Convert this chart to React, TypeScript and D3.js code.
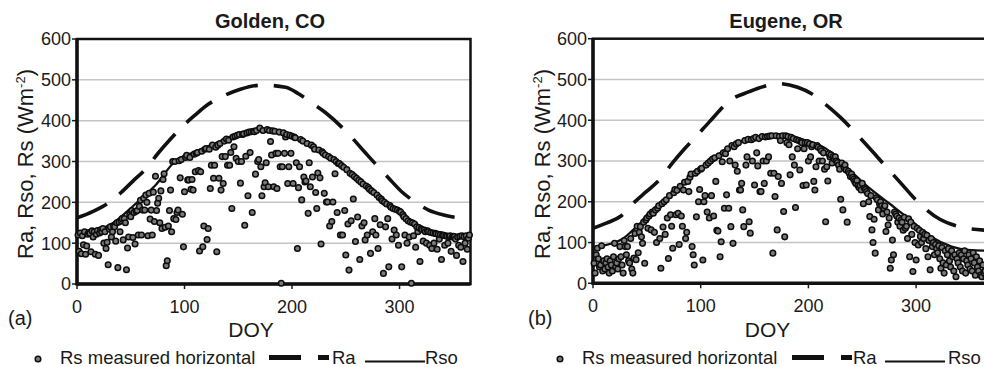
import React from 'react';
import * as d3 from 'd3';

const yTicks = [0, 100, 200, 300, 400, 500, 600];
const xTicks = [0, 100, 200, 300];

// [DOY, W m-2]
const goldenRa: [number, number][] = [[0,162],[15,178],[29,198],[41,224],[52,252],[64,282],[76,322],[87,355],[97,383],[110,414],[122,440],[135,459],[152,477],[172,487],[194,482],[206,466],[217,446],[231,420],[252,369],[268,322],[279,290],[290,259],[302,226],[315,200],[327,181],[341,169],[355,162],[366,160]];
const goldenRso: [number, number][] = [[0,122],[10,125],[23,136],[35,152],[48,181],[60,210],[73,242],[91,300],[110,324],[128,344],[147,365],[169,377],[180,377],[198,365],[220,332],[242,300],[260,259],[279,214],[297,181],[316,140],[335,124],[353,116],[366,118]];
const goldenRs: number[] = [
120,80,125,74,118,96,128,73,93,122,
126,124,79,130,115,128,73,122,131,70,
125,133,128,136,100,128,87,102,47,135,
140,115,128,142,140,105,150,40,152,128,
155,160,108,160,150,35,88,115,170,165,
180,114,175,98,178,180,120,190,205,120,
181,210,181,218,200,118,222,159,181,120,
225,153,264,180,198,210,150,228,136,256,
270,139,45,57,142,180,230,128,300,160,
300,158,175,181,302,260,305,171,91,226,
310,315,255,255,310,232,256,230,318,275,
320,322,278,81,275,325,91,142,330,332,
109,136,330,234,291,340,259,291,335,79,
340,259,344,230,312,246,350,312,355,291,
352,291,322,185,360,336,362,308,364,300,
366,247,300,366,368,144,313,370,216,372,
322,373,175,374,373,269,376,300,305,382,
287,216,376,238,248,297,378,238,376,349,
316,375,238,374,320,234,320,372,287,2,
287,370,320,360,366,246,287,364,320,362,
246,360,358,297,87,236,287,354,206,350,
262,250,252,344,173,297,238,340,262,336,
330,224,185,272,328,260,98,324,320,222,
316,201,201,312,142,308,153,201,305,270,
300,175,295,295,120,290,120,286,180,71,
280,147,34,271,155,268,208,263,104,259,
164,254,60,250,142,245,150,108,240,120,
236,232,75,228,128,224,160,120,218,87,
212,145,208,204,26,200,140,196,160,42,
192,188,110,185,132,183,120,181,95,178,
176,42,170,165,120,160,100,155,115,152,
2,150,118,147,90,140,128,138,55,135,
133,105,132,128,100,130,128,95,126,87,
125,100,124,123,85,122,110,121,60,120,
119,95,118,117,100,116,118,80,115,117,
116,110,70,115,95,117,90,118,55,116,
100,118,85,112,120];

const eugeneRa: [number, number][] = [[0,135],[13,148],[26,165],[38,198],[50,226],[62,255],[74,296],[85,330],[96,361],[108,396],[128,450],[145,470],[160,484],[172,490],[190,481],[203,465],[215,441],[229,409],[250,351],[264,310],[286,245],[300,204],[322,157],[337,141],[350,134],[366,130]];
const eugeneRso: [number, number][] = [[0,86],[10,93],[20,100],[28,110],[40,138],[52,168],[74,221],[99,278],[120,323],[136,347],[158,360],[178,362],[198,350],[216,331],[235,286],[255,237],[277,192],[295,155],[314,114],[333,90],[348,82],[366,80]];
const eugeneRs: number[] = [
49,25,70,86,60,40,45,92,30,55,
35,50,60,40,25,55,45,30,65,98,
40,50,35,60,90,65,45,25,105,90,
70,90,55,50,110,35,25,62,122,58,
140,75,125,139,114,98,150,49,155,160,
135,165,170,131,175,172,125,180,100,184,
190,110,37,195,138,200,120,205,160,61,
215,168,140,86,222,230,168,228,172,95,
238,165,140,229,248,110,125,250,225,260,
268,90,70,45,270,163,275,200,230,280,
282,57,200,215,290,175,295,160,300,215,
305,165,308,250,130,128,313,65,102,298,
320,184,318,217,330,184,300,139,338,98,
335,290,342,275,345,229,229,245,180,139,
350,290,310,353,151,123,352,300,355,241,
358,320,288,355,225,225,360,300,245,359,
300,360,310,361,270,362,74,270,213,362,
131,262,360,350,245,362,176,114,362,345,
360,340,266,358,310,355,290,186,352,330,
350,278,348,345,240,330,345,241,345,300,
342,310,335,340,250,229,286,338,334,300,
330,325,300,320,280,151,286,251,318,310,
315,295,311,305,310,300,296,290,280,206,
295,180,285,290,278,150,275,270,262,268,
260,255,250,245,252,240,235,240,229,245,
195,233,230,225,220,200,164,215,131,100,
157,74,210,205,180,195,200,190,170,185,
190,127,175,143,160,37,57,106,70,175,
170,165,150,160,140,155,150,130,162,135,
140,110,158,65,150,120,29,140,100,57,
135,94,130,115,100,125,110,120,85,118,
65,105,33,110,90,100,70,95,85,75,
92,60,37,88,50,25,80,45,70,85,
55,40,80,65,30,70,16,60,50,75,
40,70,30,60,80,25,55,45,70,35,
60,30,75,50,20,65,40,30,55,20,
16,45,25,30,15];

const FONT = '"Liberation Sans", Arial, Helvetica, sans-serif';

type PanelProps = {
  x0: number; x1: number; yB: number; yT: number;
  title: string; titleX: number; tag: string; tagX: number; doyX: number; yLabX: number;
  ra: [number, number][]; rso: [number, number][]; rs: number[];
  lg: { marker: number; text: number; dash0: number; raText: number; line0: number; rsoText: number };
};

function Panel(p: PanelProps) {
  const x = d3.scaleLinear().domain([0, 366]).range([p.x0, p.x1]);
  const y = d3.scaleLinear().domain([0, 600]).range([p.yB, p.yT]);
  const line = d3.line<[number, number]>().x(d => x(d[0])).y(d => y(d[1])).curve(d3.curveMonotoneX);
  const lgY = 359;
  return (
    <g fontFamily={FONT} fill="#1a1a1a">
      {yTicks.filter(t => t > 0 && t < 600).map(t => (
        <line key={'g' + t} x1={p.x0} x2={p.x1} y1={y(t)} y2={y(t)} stroke="#c4c4c4" strokeWidth={1.5} />
      ))}
      {yTicks.map(t => (
        <g key={'yt' + t}>
          <line x1={p.x0 - 5} x2={p.x0} y1={y(t)} y2={y(t)} stroke="#1a1a1a" strokeWidth={1.5} />
          <text x={p.x0 - 6} y={y(t)} dy="0.36em" textAnchor="end" fontSize={18}>{t}</text>
        </g>
      ))}
      {xTicks.map(t => (
        <g key={'xt' + t}>
          <line x1={x(t)} x2={x(t)} y1={p.yB} y2={p.yB + 5} stroke="#1a1a1a" strokeWidth={1.5} />
          <text x={x(t)} y={p.yB + 29} textAnchor="middle" fontSize={18}>{t}</text>
        </g>
      ))}
      <rect x={p.x0} y={p.yT} width={p.x1 - p.x0} height={p.yB - p.yT} fill="none" stroke="#111" strokeWidth={2.5} />
      <line x1={p.x0} x2={p.x0} y1={p.yT} y2={p.yB + 1.5} stroke="#111" strokeWidth={3.5} />
      <line x1={p.x0} x2={p.x1} y1={p.yB} y2={p.yB} stroke="#111" strokeWidth={3.5} />
      <path d={line(p.ra) || ''} fill="none" stroke="#111" strokeWidth={3.6} strokeDasharray="33,16" />
      <path d={line(p.rso) || ''} fill="none" stroke="#111" strokeWidth={2.3} />
      {p.rs.map((v, i) => (
        <circle key={'p' + i} cx={x(i + 1)} cy={y(v)} r={2.8} fill="#7a7a7a" stroke="#0d0d0d" strokeWidth={1.5} />
      ))}
      <text x={p.titleX} y={28} textAnchor="middle" fontSize={20} fontWeight="bold">{p.title}</text>
      <text transform={`translate(${p.yLabX},164) rotate(-90)`} textAnchor="middle" fontSize={22}>
        Ra, Rso, Rs (Wm<tspan dy={-8} fontSize={13}>-2</tspan><tspan dy={8}>)</tspan>
      </text>
      <text x={p.tagX} y={325} fontSize={20}>{p.tag}</text>
      <text x={p.doyX} y={337} textAnchor="middle" fontSize={21}>DOY</text>
      <circle cx={p.lg.marker} cy={lgY} r={2.8} fill="#7a7a7a" stroke="#0d0d0d" strokeWidth={1.5} />
      <text x={p.lg.text} y={364} fontSize={18.5}>Rs measured horizontal</text>
      <line x1={p.lg.dash0} x2={p.lg.dash0 + 60} y1={357.5} y2={357.5} stroke="#111" strokeWidth={5} strokeDasharray="32,17" />
      <text x={p.lg.raText} y={364} fontSize={18.5}>Ra</text>
      <line x1={p.lg.line0} x2={p.lg.line0 + 60} y1={361.5} y2={361.5} stroke="#111" strokeWidth={2} />
      <text x={p.lg.rsoText} y={364} fontSize={18.5}>Rso</text>
    </g>
  );
}

export default function App() {
  return (
    <svg width={984} height={367} style={{ position: 'absolute', left: 0, top: 0, background: '#fff' }}>
      <rect width={984} height={367} fill="#fff" />
      <Panel x0={77} x1={470.5} yB={284} yT={39} title="Golden, CO" titleX={270} tag="(a)" tagX={8} doyX={251} yLabX={33}
        ra={goldenRa} rso={goldenRso} rs={goldenRs}
        lg={{ marker: 38, text: 60, dash0: 269, raText: 332, line0: 365, rsoText: 425 }} />
      <Panel x0={593} x1={987.2} yB={283.3} yT={38.7} title="Eugene, OR" titleX={786} tag="(b)" tagX={528} doyX={767.5} yLabX={550}
        ra={eugeneRa} rso={eugeneRso} rs={eugeneRs}
        lg={{ marker: 560, text: 582, dash0: 792, raText: 853, line0: 885, rsoText: 948 }} />
    </svg>
  );
}
